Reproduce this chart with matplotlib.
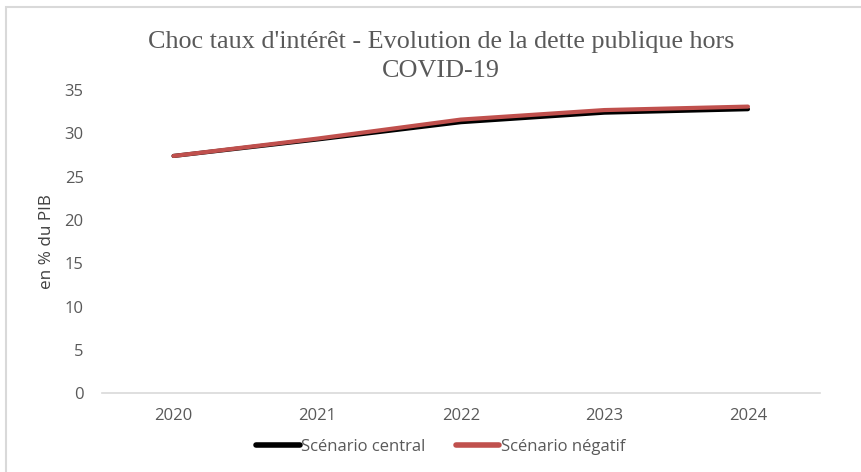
import matplotlib.pyplot as plt
from matplotlib.patches import Rectangle

years = ["2020", "2021", "2022", "2023", "2024"]
central = [27.4, 29.3, 31.3, 32.4, 32.8]
negatif = [27.4, 29.4, 31.6, 32.7, 33.1]

fig = plt.figure(figsize=(8.62, 4.72), dpi=100)
ax = fig.add_axes([0.118, 0.167, 0.833, 0.642])

x = range(len(years))
ax.plot(x, central, color="black", lw=3, solid_capstyle="round", label="Scénario central")
ax.plot(x, negatif, color="#C0504D", lw=3, solid_capstyle="round", label="Scénario négatif")

ax.set_xlim(-0.5, len(years) - 0.5)
ax.set_ylim(0, 35)
ax.set_yticks(range(0, 36, 5))
ax.set_xticks(list(x))
ax.set_xticklabels(years)
ax.tick_params(axis="y", length=0, pad=13)
ax.tick_params(axis="x", length=0, pad=11)
for lab in ax.get_xticklabels() + ax.get_yticklabels():
    lab.set_fontfamily("Open Sans")
    lab.set_fontsize(12)
    lab.set_color("#595959")
for s in ["top", "right", "left"]:
    ax.spines[s].set_visible(False)
ax.spines["bottom"].set_color("#D9D9D9")
ax.spines["bottom"].set_linewidth(1.2)

ax.set_ylabel("en % du PIB", fontsize=12.3, color="#404040", family="Open Sans")
ax.yaxis.set_label_coords(-47 / 718, 0.5)

fig.text(0.512, 0.88, "Choc taux d'intérêt - Evolution de la dette publique hors\nCOVID-19",
         ha="center", va="center", fontsize=18.8, color="#595959",
         family="Liberation Serif", linespacing=1.38)

ax.legend(loc="center", bbox_to_anchor=(0.472, -54 / 303), ncol=2, frameon=False,
          prop={"family": "Open Sans", "size": 12}, labelcolor="#595959",
          handlelength=2.6, handletextpad=0.1, columnspacing=1.8)
for line in ax.get_legend().get_lines():
    line.set_linewidth(4)

fig.patches.append(Rectangle((6 / 862, -0.05), 1.2, 1 - 7 / 472 + 0.05,
                             transform=fig.transFigure, fill=False,
                             edgecolor="#D9D9D9", lw=1.5))

fig.savefig("out.png", dpi=100)
